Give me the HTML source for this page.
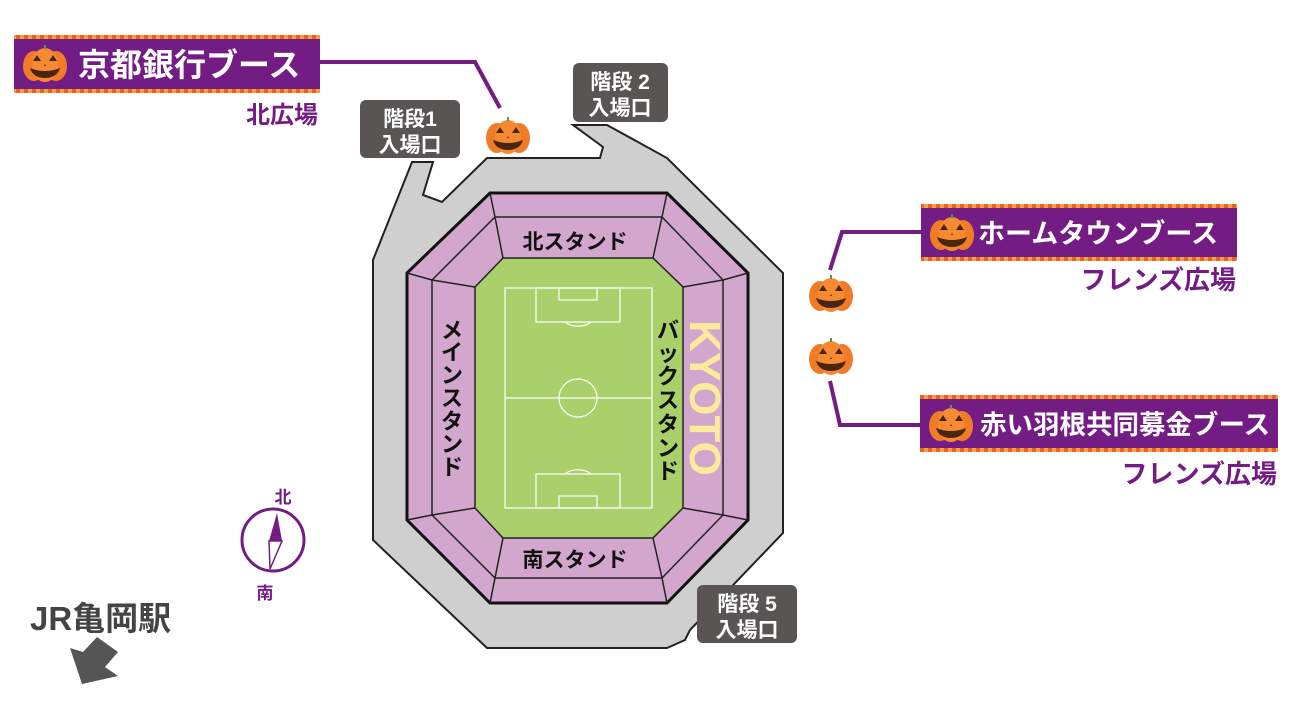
<!DOCTYPE html>
<html><head><meta charset="utf-8">
<style>
html,body{margin:0;padding:0;background:#fff;}
svg{display:block;}
text{font-family:"Liberation Sans","Noto Sans CJK JP",sans-serif;font-weight:bold;}
</style></head>
<body>
<svg width="1298" height="709" viewBox="0 0 1298 709" xmlns="http://www.w3.org/2000/svg">
<defs>
<pattern id="dots" width="8" height="4" patternUnits="userSpaceOnUse">
<rect width="8" height="4" fill="#f5a04a"/><rect width="4" height="4" fill="#e8641e"/>
</pattern>
<g id="pk">
<ellipse cx="-11" cy="2" rx="11" ry="15" fill="#f07c28"/>
<ellipse cx="11" cy="2" rx="11" ry="15" fill="#f07c28"/>
<ellipse cx="0" cy="1" rx="13" ry="17" fill="#f68a32"/>
<rect x="-1" y="-19" width="2" height="4" fill="#4a9a5a"/>
<path d="M-12,-3 L-8,-9 L-4,-3Z M4,-3 L8,-9 L12,-3Z" fill="#4a2610"/>
<path d="M-1,2 L0,0 L1,2Z" fill="#4a2610"/>
<path d="M-15,4 Q0,10 15,4 Q12,14 0,14 Q-12,14 -15,4Z" fill="#4a2610"/>
</g>
</defs>

<path d="M412,162 L433,162 L423,195 L442,202 L487,158 L600,158 L603,147 L573,125 L607,125 L667,158 L783,273 L783,533 L690,630 L685,640 L667,648 L487,648 L373,540 L373,260 Z" fill="#cfcfcf" stroke="#222" stroke-width="2"/>
<path d="M490,193 L667,193 L748,273 L748,520 L667,603 L490,603 L407,520 L407,273 Z" fill="#d3a6cd" stroke="#111" stroke-width="3"/>
<path d="M495,217 L662,217 L723,280 L723,515 L662,578 L495,578 L432,515 L432,280 Z" fill="none" stroke="#222" stroke-width="1.5"/>
<g stroke="#222" stroke-width="1.5">
<line x1="490" y1="193" x2="495" y2="217"/><line x1="667" y1="193" x2="662" y2="217"/>
<line x1="748" y1="273" x2="723" y2="280"/><line x1="407" y1="273" x2="432" y2="280"/>
<line x1="407" y1="520" x2="432" y2="515"/><line x1="748" y1="520" x2="723" y2="515"/>
<line x1="490" y1="603" x2="495" y2="578"/><line x1="667" y1="603" x2="662" y2="578"/>
<line x1="495" y1="217" x2="503" y2="258"/><line x1="662" y1="217" x2="653" y2="258"/>
<line x1="723" y1="280" x2="683" y2="287"/><line x1="432" y1="280" x2="475" y2="287"/>
<line x1="432" y1="515" x2="475" y2="508"/><line x1="723" y1="515" x2="683" y2="508"/>
<line x1="495" y1="578" x2="503" y2="538"/><line x1="662" y1="578" x2="653" y2="538"/>
</g>
<path d="M503,258 L653,258 L683,287 L683,508 L653,538 L503,538 L475,508 L475,287 Z" fill="#a9d06a" stroke="#222" stroke-width="1.5"/>
<g fill="none" stroke="#fff" stroke-width="1.2">
<rect x="505" y="288" width="147" height="220"/>
<line x1="505" y1="398" x2="652" y2="398"/>
<circle cx="578" cy="398" r="19"/>
<rect x="536" y="288" width="84" height="34"/><rect x="559" y="288" width="38" height="12"/>
<path d="M565,322 A16,10 0 0 0 591,322"/>
<rect x="536" y="474" width="84" height="34"/><rect x="559" y="496" width="38" height="12"/>
<path d="M565,474 A16,10 0 0 1 591,474"/>
</g>
<text x="575" y="249" font-size="21" text-anchor="middle" fill="#111">北スタンド</text>
<text x="575" y="567" font-size="21" text-anchor="middle" fill="#111">南スタンド</text>
<g font-size="22" text-anchor="middle" fill="#111">
<text x="452" y="338">メ</text><text x="452" y="360">イ</text><text x="452" y="383">ン</text><text x="452" y="406">ス</text><text x="452" y="429">タ</text><text x="452" y="452">ン</text><text x="452" y="475">ド</text>
<text x="668" y="338">バ</text><text x="668" y="361">ッ</text><text x="668" y="384">ク</text><text x="668" y="408">ス</text><text x="668" y="432">タ</text><text x="668" y="456">ン</text><text x="668" y="479">ド</text>
</g>
<text transform="translate(690,398) rotate(90)" font-size="44" text-anchor="middle" fill="#fdeb9c" font-family="Liberation Sans">KYOTO</text>

<rect x="360" y="100" width="100" height="58" rx="6" fill="#595555"/>
<text x="410" y="126" font-size="21" text-anchor="middle" fill="#fff">階段1</text>
<text x="410" y="152" font-size="21" text-anchor="middle" fill="#fff">入場口</text>
<rect x="573" y="63" width="95" height="59" rx="6" fill="#595555"/>
<text x="620" y="89" font-size="21" text-anchor="middle" fill="#fff">階段 2</text>
<text x="620" y="115" font-size="21" text-anchor="middle" fill="#fff">入場口</text>
<rect x="697" y="585" width="100" height="58" rx="6" fill="#595555"/>
<text x="747" y="611" font-size="21" text-anchor="middle" fill="#fff">階段 5</text>
<text x="747" y="637" font-size="21" text-anchor="middle" fill="#fff">入場口</text>

<g fill="none" stroke="#731c84" stroke-width="4">
<polyline points="318,62 475,62 500,108"/>
<polyline points="921,232 842,232 830,270"/>
<polyline points="830,381 840,425 920,425"/>
</g>

<rect x="14" y="35" width="306" height="58" fill="url(#dots)"/>
<rect x="14" y="39" width="306" height="50" fill="#731c84"/>
<use href="#pk" x="45" y="64"/>
<text x="78" y="76" font-size="32" fill="#fff">京都銀行ブース</text>
<text x="318" y="123" font-size="24" text-anchor="end" fill="#731c84">北広場</text>

<rect x="921" y="204" width="316" height="57" fill="url(#dots)"/>
<rect x="921" y="208" width="316" height="49" fill="#731c84"/>
<use href="#pk" x="952" y="233"/>
<text x="978" y="243" font-size="27" fill="#fff">ホームタウンブース</text>
<text x="1236" y="289" font-size="26" text-anchor="end" fill="#731c84">フレンズ広場</text>

<rect x="920" y="395" width="358" height="57" fill="url(#dots)"/>
<rect x="920" y="399" width="358" height="49" fill="#731c84"/>
<use href="#pk" x="951" y="424"/>
<text x="980" y="434" font-size="26.5" fill="#fff">赤い羽根共同募金ブース</text>
<text x="1277" y="483" font-size="26" text-anchor="end" fill="#731c84">フレンズ広場</text>

<use href="#pk" x="508" y="136"/>
<use href="#pk" x="831" y="294"/>
<use href="#pk" x="831" y="357"/>

<circle cx="273" cy="540" r="31" fill="none" stroke="#731c84" stroke-width="3"/>
<path d="M277,513 L282,541 L269,541 Z" fill="#731c84"/>
<path d="M269,541 L282,541 L270,569 Z" fill="#fff" stroke="#731c84" stroke-width="1.5"/>
<text x="283" y="503" font-size="17" text-anchor="middle" fill="#731c84">北</text>
<text x="265" y="599" font-size="17" text-anchor="middle" fill="#731c84">南</text>

<text x="30" y="630" font-size="33" fill="#444">JR亀岡駅</text>
<path d="M70,648 L82,684 L118,676 L105,667 L118,652 L97,637 L83,652 Z" fill="#555"/>
</svg>
</body></html>
